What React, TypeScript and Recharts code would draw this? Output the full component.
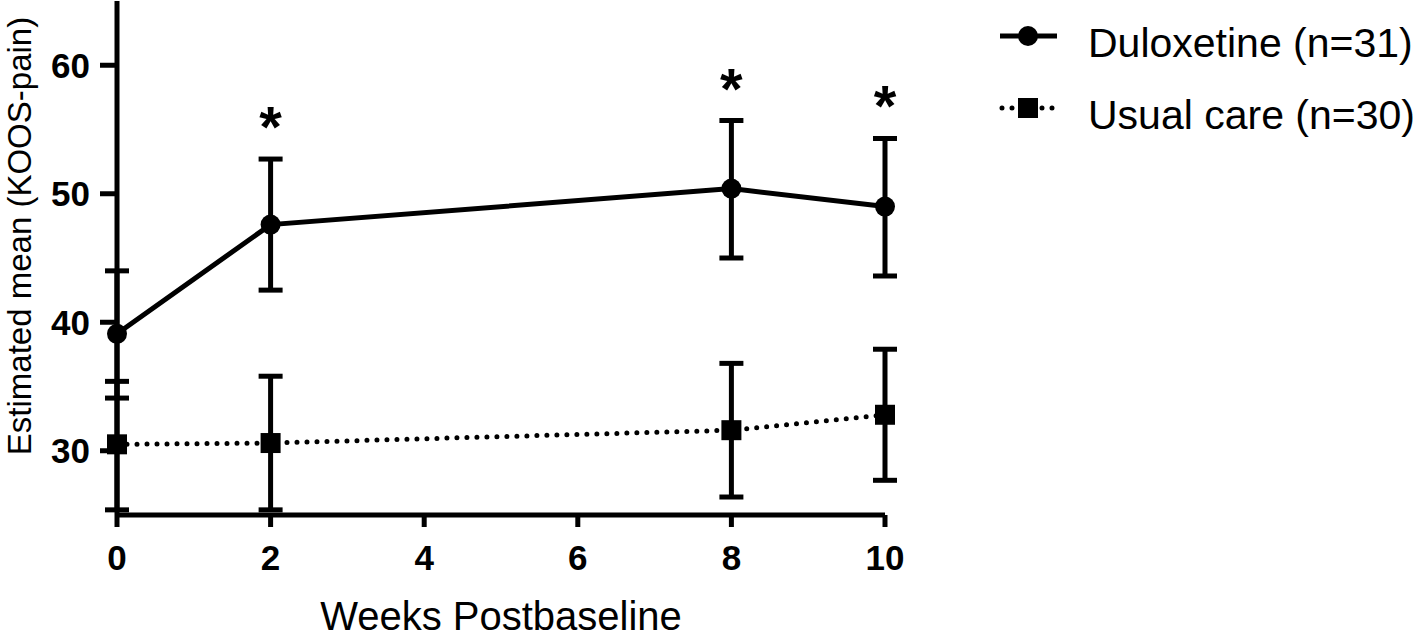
import React from "react";
import {
  LineChart,
  Line,
  XAxis,
  YAxis,
  ErrorBar,
  LabelList,
  Legend,
} from "recharts";

// weeks after baseline
const weeks = [0, 2, 8, 10];

// Duloxetine (n=31): estimated mean and CI bounds
const duloxMean = [39.1, 47.6, 50.4, 49.0];
const duloxLower = [34.1, 42.5, 45.0, 43.6];
const duloxUpper = [44.0, 52.7, 55.7, 54.3];

// Usual care (n=30)
const usualMean = [30.5, 30.6, 31.6, 32.8];
const usualLower = [25.4, 25.4, 26.4, 27.7];
const usualUpper = [35.4, 35.8, 36.8, 37.9];

// significance markers over duloxetine
const significant = [false, true, true, true];

const xTicks = [0, 2, 4, 6, 8, 10];
const yTicks = [30, 40, 50, 60];

const FONT = "'Liberation Sans', Arial, Helvetica, sans-serif";
const SW = 5;

const data = weeks.map((w, i) => ({
  week: w,
  dulox: duloxMean[i],
  duloxErr: [duloxMean[i] - duloxLower[i], duloxUpper[i] - duloxMean[i]],
  duloxTop: duloxUpper[i],
  star: significant[i] ? "*" : "",
  usual: usualMean[i],
  usualErr: [usualMean[i] - usualLower[i], usualUpper[i] - usualMean[i]],
}));

const SquareDot = (props: any) => {
  const { cx, cy, index } = props;
  if (cx == null || cy == null) return <g key={`sq-${index}`} />;
  return <rect key={`sq-${index}`} x={cx - 10} y={cy - 10} width={20} height={20} fill="#000" />;
};

const renderStar = (props: any) => {
  const { x, y, value, index } = props;
  if (!value) return null;
  return (
    <text
      key={`star-${index}`}
      x={x}
      y={y - 12}
      textAnchor="middle"
      fontFamily={FONT}
      fontWeight="bold"
      fontSize={58}
      fill="#000"
    >
      {value}
    </text>
  );
};

const renderLegend = (props: any) => {
  const items = (props.payload || []).filter((p: any) => p.type !== "none");
  return (
    <svg width={426} height={150}>
      {items.map((p: any, i: number) => {
        const cy = 36 + i * 72;
        const dotted = p.dataKey === "usual";
        return (
          <g key={p.value}>
            <line
              x1={dotted ? 12 : 10}
              y1={cy}
              x2={67}
              y2={cy}
              stroke="#000"
              strokeWidth={SW}
              strokeDasharray={dotted ? "0 10" : undefined}
              strokeLinecap={dotted ? "round" : "butt"}
            />
            {dotted ? (
              <rect x={28} y={cy - 10} width={20} height={20} fill="#000" />
            ) : (
              <circle cx={38} cy={cy} r={10} fill="#000" />
            )}
            <text x={98} y={cy + 21} fontFamily={FONT} fontSize={41} fill="#000">
              {p.value}
            </text>
          </g>
        );
      })}
    </svg>
  );
};

const YTitle = (props: any) => {
  const vb = props.viewBox || {};
  const cy = vb.y + vb.height / 2 - 22;
  return (
    <text
      x={31}
      y={cy}
      transform={`rotate(-90, 31, ${cy})`}
      textAnchor="middle"
      fontFamily={FONT}
      fontSize={33}
      fill="#000"
    >
      Estimated mean (KOOS-pain)
    </text>
  );
};

export default function App() {
  return (
    <div style={{ position: "absolute", left: 0, top: 0, background: "#fff" }}>
      <LineChart
        width={1416}
        height={639}
        data={data}
        margin={{ top: 1, right: 531, bottom: 0, left: 0 }}
      >
        <XAxis
          dataKey="week"
          type="number"
          domain={[0, 10]}
          ticks={xTicks}
          height={124}
          tickSize={12}
          tickMargin={18}
          axisLine={{ stroke: "#000", strokeWidth: SW }}
          tickLine={{ stroke: "#000", strokeWidth: SW }}
          tick={{ fill: "#000", fontSize: 35, fontWeight: "bold", fontFamily: FONT }}
          label={{
            value: "Weeks Postbaseline",
            position: "insideBottom",
            offset: 9,
            fill: "#000",
            fontSize: 40,
            fontFamily: FONT,
          }}
        />
        <YAxis
          type="number"
          domain={[25, 65]}
          ticks={yTicks}
          width={117}
          tickSize={17}
          tickMargin={10}
          axisLine={{ stroke: "#000", strokeWidth: SW }}
          tickLine={{ stroke: "#000", strokeWidth: SW }}
          tick={{ fill: "#000", fontSize: 35, fontWeight: "bold", fontFamily: FONT }}
          label={<YTitle />}
        />
        <Legend
          layout="vertical"
          align="center"
          verticalAlign="middle"
          wrapperStyle={{ left: 990, top: 0, width: 426 }}
          content={renderLegend}
        />
        <Line
          dataKey="dulox"
          name="Duloxetine (n=31)"
          stroke="#000"
          strokeWidth={SW}
          dot={{ r: 10, fill: "#000", stroke: "#000", strokeWidth: 0 }}
          activeDot={false}
          isAnimationActive={false}
        >
          <ErrorBar
            dataKey="duloxErr"
            direction="y"
            width={12}
            stroke="#000"
            strokeWidth={SW}
            isAnimationActive={false}
          />
        </Line>
        <Line
          dataKey="usual"
          name="Usual care (n=30)"
          stroke="#000"
          strokeWidth={SW}
          strokeDasharray="0 10"
          strokeLinecap="round"
          dot={SquareDot}
          activeDot={false}
          isAnimationActive={false}
        >
          <ErrorBar
            dataKey="usualErr"
            direction="y"
            width={12}
            stroke="#000"
            strokeWidth={SW}
            isAnimationActive={false}
          />
        </Line>
        <Line
          dataKey="duloxTop"
          stroke="none"
          dot={false}
          activeDot={false}
          legendType="none"
          isAnimationActive={false}
        >
          <LabelList dataKey="star" content={renderStar} />
        </Line>
      </LineChart>
    </div>
  );
}
